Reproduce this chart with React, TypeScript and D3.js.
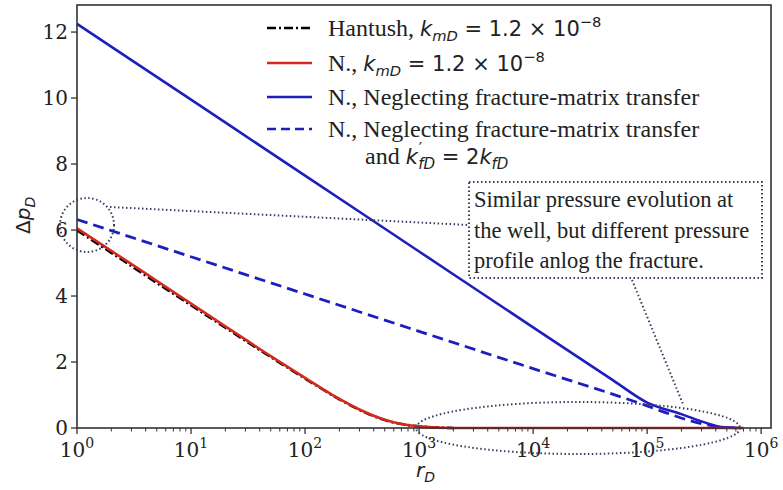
import React from 'react';
import * as d3 from 'd3';

// r_D values and Delta p_D
const rRed = [1, 2, 5, 10, 20, 50, 100, 200, 300, 500, 700, 1000, 2000, 1e4, 1e5, 7e5];
const pRed = [6.05, 5.37, 4.46, 3.77, 3.08, 2.18, 1.52, 0.88, 0.56, 0.25, 0.12, 0.05, 0.0, 0, 0, 0];

const rHantush = [1, 2, 5, 10, 20, 50, 100, 200, 300, 500, 700, 1000, 2000];
const pHantush = [5.99, 5.31, 4.40, 3.72, 3.04, 2.15, 1.50, 0.87, 0.55, 0.24, 0.12, 0.05, 0.0];

const rBlue = [1, 10, 100, 1000, 1e4, 5e4, 1e5, 2e5, 3.4e5, 4.5e5, 6.5e5];
const pBlue = [12.25, 9.95, 7.65, 5.35, 3.05, 1.45, 0.77, 0.42, 0.14, 0.03, 0];

const rBlueDash = [1, 10, 100, 1000, 1e4, 1e5, 1.5e5, 2.5e5, 4e5, 6e5];
const pBlueDash = [6.32, 5.19, 4.06, 2.93, 1.8, 0.67, 0.45, 0.2, 0.05, 0];

const xTicks = [0, 1, 2, 3, 4, 5, 6];
const yTicks = [0, 2, 4, 6, 8, 10, 12];
const noteLines = [
  'Similar pressure evolution at',
  'the well, but different pressure',
  'profile anlog the fracture.',
];

const W = 783;
const H = 490;
const margin = { top: 5, right: 12, bottom: 62, left: 77 };

const RED = '#d42a1e';
const BLUE = '#1e1ec0';
const DOT = '#34405e';
const SPINE = '#333';
const serif = '"Liberation Serif", "Times New Roman", serif';
const tickFont = '"DejaVu Serif", serif';
const mathFont = '"DejaVu Sans", sans-serif';

const x = d3.scaleLog().domain([1, 1.22e6]).range([margin.left, W - margin.right]);
const y = d3.scaleLinear().domain([0, 12.82]).range([H - margin.bottom, margin.top]);

const zip = (rs: number[], ps: number[]) => rs.map((r, i) => [r, ps[i]] as [number, number]);
const line = d3.line<[number, number]>().x(d => x(d[0])).y(d => y(d[1])).curve(d3.curveMonotoneX);

const Kmd = ({ fs }: { fs: number }) => (
  <>
    <tspan fontFamily={mathFont} fontStyle="italic">k</tspan>
    <tspan fontFamily={mathFont} fontStyle="italic" fontSize={fs * 0.7} dy={5}>mD</tspan>
    <tspan fontFamily={mathFont} dy={-5}> = 1.2 × 10</tspan>
    <tspan fontFamily={mathFont} fontSize={fs * 0.7} dy={-9}>−8</tspan>
  </>
);

const App = () => {
  const x0 = margin.left;
  const x1 = W - margin.right;
  const y0 = H - margin.bottom;
  const y1 = margin.top;

  const minor: number[] = [];
  for (let e = 0; e < 7; e++) {
    for (let m = 2; m < 10; m++) {
      const v = m * Math.pow(10, e);
      if (v <= 1.22e6) minor.push(v);
    }
  }

  const legFs = 24;
  const mathFs = 21;
  const legend = [
    { y: 28, color: 'black', dash: '9,3,2,3', label: <><tspan>Hantush, </tspan><tspan fontSize={mathFs}><Kmd fs={mathFs} /></tspan></> },
    { y: 63, color: RED, dash: null, label: <><tspan>N., </tspan><tspan fontSize={mathFs}><Kmd fs={mathFs} /></tspan></> },
    { y: 97, color: BLUE, dash: null, label: <tspan>N., Neglecting fracture-matrix transfer</tspan> },
    { y: 129, color: BLUE, dash: '9,5', label: <tspan>N., Neglecting fracture-matrix transfer</tspan> },
  ];

  return (
    <svg width={W} height={H} style={{ display: 'block', position: 'absolute', left: 0, top: 0, background: 'white' }}>
      {/* curves */}
      <path d={line(zip(rBlue, pBlue)) || ''} fill="none" stroke={BLUE} strokeWidth={2.6} />
      <path d={line(zip(rBlueDash, pBlueDash)) || ''} fill="none" stroke={BLUE} strokeWidth={2.8} strokeDasharray="11,6" />
      <path d={line(zip(rHantush, pHantush)) || ''} fill="none" stroke="black" strokeWidth={2.6} strokeDasharray="9,3,2,3" />
      <path d={line(zip(rRed, pRed)) || ''} fill="none" stroke={RED} strokeWidth={2.6} />

      {/* spines */}
      <rect x={x0} y={y1} width={x1 - x0} height={y0 - y1} fill="none" stroke={SPINE} strokeWidth={1.6} />

      {/* x ticks */}
      {xTicks.map(e => (
        <g key={e}>
          <line x1={x(Math.pow(10, e))} x2={x(Math.pow(10, e))} y1={y0} y2={y0 + 6} stroke={SPINE} strokeWidth={1.3} />
          <text x={x(Math.pow(10, e))} y={y0 + 29} textAnchor="middle" fontFamily={tickFont} fontSize={20} fill="#222">
            10<tspan fontSize={14} dy={-9}>{e}</tspan>
          </text>
        </g>
      ))}
      {minor.map(v => (
        <line key={v} x1={x(v)} x2={x(v)} y1={y0} y2={y0 + 3.5} stroke={SPINE} strokeWidth={1} />
      ))}

      {/* y ticks */}
      {yTicks.map(t => (
        <g key={t}>
          <line x1={x0 - 6} x2={x0} y1={y(t)} y2={y(t)} stroke={SPINE} strokeWidth={1.3} />
          <text x={x0 - 9} y={y(t) + 7} textAnchor="end" fontFamily={tickFont} fontSize={20} fill="#222">{t}</text>
        </g>
      ))}

      {/* axis labels */}
      <text x={416} y={477} fontFamily={mathFont} fontStyle="italic" fontSize={20} fill="#222">
        r<tspan fontSize={14} dy={5}>D</tspan>
      </text>
      <text transform="translate(30,234) rotate(-90)" fontFamily={mathFont} fontSize={20} fill="#222">
        Δ<tspan fontStyle="italic">p</tspan><tspan fontStyle="italic" fontSize={14} dy={5}>D</tspan>
      </text>

      {/* legend */}
      {legend.map((l, i) => (
        <g key={i}>
          <line x1={267} x2={312} y1={l.y} y2={l.y} stroke={l.color} strokeWidth={2.6} strokeDasharray={l.dash || undefined} />
          <text x={328} y={l.y + 8} fontFamily={serif} fontSize={legFs} fill="#222">{l.label}</text>
        </g>
      ))}
      <text x={365} y={164} fontFamily={serif} fontSize={legFs} fill="#222">
        and <tspan fontFamily={mathFont} fontStyle="italic" fontSize={mathFs}>k</tspan>
        <tspan fontFamily={mathFont} fontSize={15} dx={1} dy={-10}>′</tspan>
        <tspan fontFamily={mathFont} fontStyle="italic" fontSize={15} dx={-4} dy={15}>fD</tspan>
        <tspan fontFamily={mathFont} fontSize={mathFs} dy={-5}> = 2</tspan>
        <tspan fontFamily={mathFont} fontStyle="italic" fontSize={mathFs}>k</tspan>
        <tspan fontFamily={mathFont} fontStyle="italic" fontSize={15} dy={5}>fD</tspan>
      </text>

      {/* annotations */}
      <ellipse cx={87} cy={225} rx={27} ry={27} fill="none" stroke={DOT} strokeWidth={2} strokeDasharray="1.5,2.5" />
      <line x1={110} y1={207} x2={469} y2={225} stroke={DOT} strokeWidth={2} strokeDasharray="1.5,2.5" />
      <rect x={469} y={182} width={293} height={96} fill="white" stroke={DOT} strokeWidth={2} strokeDasharray="1.5,2.5" />
      {noteLines.map((t, i) => (
        <text key={i} x={474} y={207 + i * 30.5} fontFamily={serif} fontSize={22.5} fill="#222">{t}</text>
      ))}
      <line x1={632} y1={280} x2={683} y2={404} stroke={DOT} strokeWidth={2} strokeDasharray="1.5,2.5" />
      <ellipse cx={578} cy={428} rx={162} ry={26} fill="none" stroke={DOT} strokeWidth={2} strokeDasharray="1.5,2.5" />
    </svg>
  );
};

export default App;
